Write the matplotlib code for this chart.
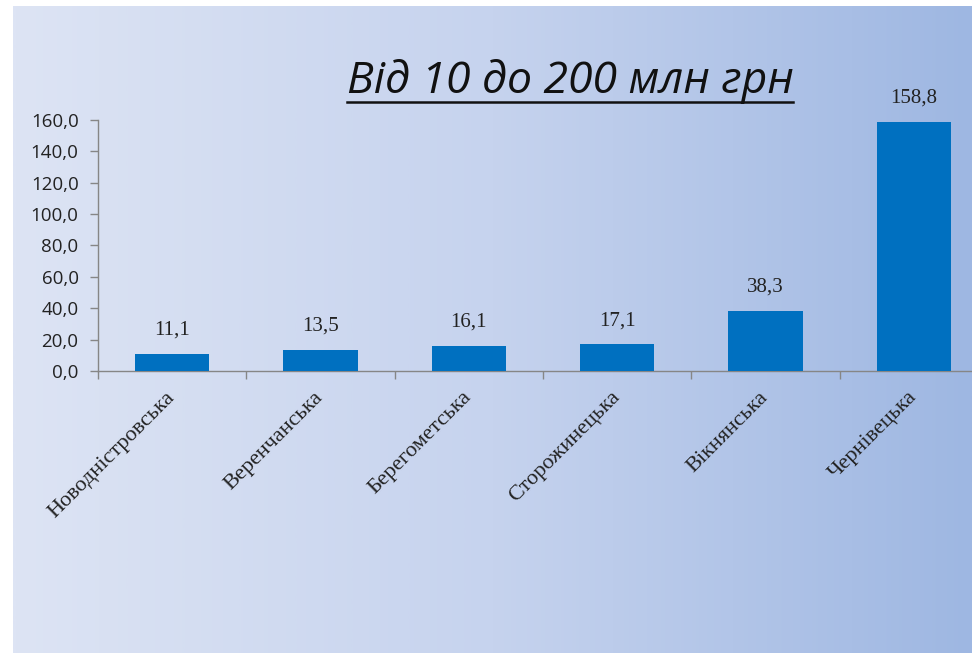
import numpy as np
import matplotlib
matplotlib.use("Agg")
import matplotlib.pyplot as plt
from matplotlib.colors import LinearSegmentedColormap
from matplotlib.ticker import FuncFormatter, FixedLocator

categories = ["Новодністровська", "Веренчанська", "Берегометська",
              "Сторожинецька", "Вікнянська", "Чернівецька"]
values = [11.1, 13.5, 16.1, 17.1, 38.3, 158.8]
yticks = [0, 20, 40, 60, 80, 100, 120, 140, 160]
title = "Від 10 до 200 млн грн"

W, H = 972, 653
fig = plt.figure(figsize=(W / 100, H / 100), dpi=100)
fig.patch.set_facecolor("white")

# gradient slide background
bg = fig.add_axes([13 / W, 0, 1 - 13 / W, 1 - 6 / H], zorder=-10)
cmap = LinearSegmentedColormap.from_list("g", ["#dde4f4", "#c6d3ee", "#9eb7e2"])
grad = np.linspace(0, 1, 512).reshape(1, -1)
bg.imshow(grad, aspect="auto", cmap=cmap, extent=[0, 1, 0, 1])
bg.set_axis_off()

left = 98 / W
right = 988 / W
bottom = 1 - 371 / H
top = 1 - 120 / H
ax = fig.add_axes([left, bottom, right - left, top - bottom])
ax.patch.set_alpha(0)

x = np.arange(len(categories))
bars = ax.bar(x, values, width=0.5, color="#0070c0", zorder=3)
ax.set_xlim(-0.5, len(categories) - 0.5)
ax.set_ylim(0, 160)

ax.yaxis.set_major_locator(FixedLocator(yticks))
ax.yaxis.set_major_formatter(FuncFormatter(lambda v, p: f"{v:.1f}".replace(".", ",")))
for lbl in ax.get_yticklabels():
    lbl.set_fontfamily("Open Sans")
    lbl.set_fontsize(13.5)
    lbl.set_color("#222222")
ax.tick_params(axis="y", direction="out", length=6, width=1, color="#868686", pad=8)

ax.set_xticks(x)
ax.set_xticklabels(categories, rotation=45, ha="right", va="center", rotation_mode="anchor",
                   fontfamily="Liberation Serif", fontsize=16, color="#222222")
ax.tick_params(axis="x", which="major", length=0, pad=17)
ax.set_xticks(np.arange(-0.5, len(categories), 1), minor=True)
ax.tick_params(axis="x", which="minor", direction="out", length=6, width=1, color="#868686")

for s in ["top", "right"]:
    ax.spines[s].set_visible(False)
for s in ["left", "bottom"]:
    ax.spines[s].set_color("#868686")
    ax.spines[s].set_linewidth(1)

for xi, v in zip(x, values):
    ax.annotate(f"{v:.1f}".replace(".", ","), (xi, v), xytext=(0, 10),
                textcoords="offset points", ha="center", va="bottom",
                fontfamily="Liberation Serif", fontsize=15, color="#222222")

t = fig.text(570 / W, 1 - 93 / H, title, ha="center", va="baseline",
             fontfamily=["Open Sans", "DejaVu Sans"], fontstyle="italic",
             fontsize=32, color="#111111")
fig.canvas.draw()
bb = t.get_window_extent()
uy = 1 - 102 / H
fig.add_artist(plt.Line2D([bb.x0 / W, bb.x1 / W], [uy, uy], color="#111111", lw=1.8))

fig.savefig("out.png", dpi=100)
